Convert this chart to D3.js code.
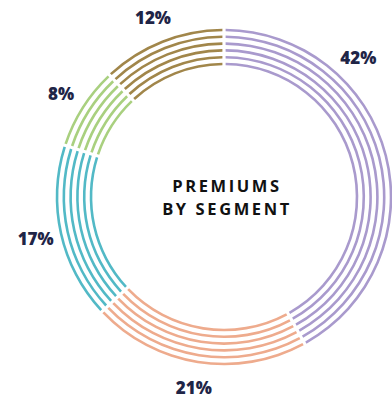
<!DOCTYPE html>
<html>
<head>
<meta charset="utf-8">
<script src="https://cdn.jsdelivr.net/npm/d3@7"></script>
<style>
  html, body { margin: 0; padding: 0; background: #fff; }
  #box { width: 392px; height: 399px; }
</style>
</head>
<body>
<div id="box"></div>
<script>
// data
const segments = ['Segment A', 'Segment B', 'Segment C', 'Segment D', 'Segment E'];
const shares = [42, 21, 17, 8, 12];
const labels = ['42%', '21%', '17%', '8%', '12%'];
const colors = ['#a99acd', '#eeab8d', '#52b9c6', '#a9d07f', '#a1864a'];
const titleLines = ['PREMIUMS', 'BY SEGMENT'];

const width = 392;
const height = 399;
const cx = 224;
const cy = 197;
const rings = d3.range(6);

// radius for each ring (outer to inner)
const ringScale = d3.scaleLinear().domain([0, 5]).range([167, 133]);

const svg = d3.select('#box').append('svg')
  .attr('width', width)
  .attr('height', height)
  .attr('viewBox', `0 0 ${width} ${height}`);

const g = svg.append('g')
  .attr('transform', `translate(${cx}, ${cy})`);

const pie = d3.pie().sort(null).value(d => d.value);
const arcs = pie(segments.map((s, i) => ({ name: s, value: shares[i], label: labels[i], color: colors[i] })));

// thin rings per segment
rings.forEach(k => {
  const r = ringScale(k);
  const arc = d3.arc()
    .innerRadius(r - 1.3)
    .outerRadius(r + 1.3)
    .padAngle(3.2 / 150)
    .padRadius(150);
  g.append('g').selectAll('path')
    .data(arcs)
    .join('path')
    .attr('d', arc)
    .attr('fill', d => d.data.color);
});

// percent labels
const labelR = 193;
const labelAngle = d => d.data.value > 30 ? d.startAngle + 0.77 : (d.startAngle + d.endAngle) / 2;
g.selectAll('.pct')
  .data(arcs)
  .join('text')
  .attr('class', 'pct')
  .attr('x', d => labelR * Math.sin(labelAngle(d)))
  .attr('y', d => -labelR * Math.cos(labelAngle(d)))
  .attr('dy', '0.35em')
  .attr('text-anchor', 'middle')
  .style('font-family', '"Open Sans", sans-serif')
  .style('font-weight', 800)
  .style('font-size', '17px')
  .style('fill', '#1f2547')
  .text(d => d.data.label);

// center title
g.selectAll('.title')
  .data(titleLines)
  .join('text')
  .attr('class', 'title')
  .attr('x', 3)
  .attr('y', (d, i) => -5 + i * 23)
  .attr('text-anchor', 'middle')
  .style('font-family', '"Open Sans", sans-serif')
  .style('font-weight', 700)
  .style('font-size', '16.5px')
  .style('letter-spacing', '2.6px')
  .style('fill', '#111')
  .text(d => d);
</script>
</body>
</html>
